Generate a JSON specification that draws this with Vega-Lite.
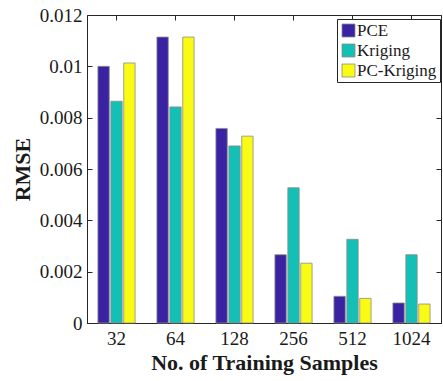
{
  "$schema": "https://vega.github.io/schema/vega-lite/v6.json",
  "width": 354,
  "height": 308,
  "autosize": {"type": "none"},
  "padding": {"left": 87, "top": 15, "right": 2, "bottom": 58},
  "background": "white",
  "config": {
    "view": {"stroke": "#262626", "strokeWidth": 1},
    "font": "Liberation Serif",
    "axis": {
      "domainColor": "#262626",
      "tickColor": "#262626",
      "labelColor": "#1a1a1a",
      "titleColor": "#1a1a1a",
      "labelFont": "Liberation Serif",
      "titleFont": "Liberation Serif",
      "grid": false
    }
  },
  "data": {
    "values": [
      {"n": "32", "method": "PCE", "rmse": 0.01},
      {"n": "32", "method": "Kriging", "rmse": 0.00864},
      {"n": "32", "method": "PC-Kriging", "rmse": 0.01013},
      {"n": "64", "method": "PCE", "rmse": 0.01114},
      {"n": "64", "method": "Kriging", "rmse": 0.00842},
      {"n": "64", "method": "PC-Kriging", "rmse": 0.01114},
      {"n": "128", "method": "PCE", "rmse": 0.00758},
      {"n": "128", "method": "Kriging", "rmse": 0.0069},
      {"n": "128", "method": "PC-Kriging", "rmse": 0.00728},
      {"n": "256", "method": "PCE", "rmse": 0.00266},
      {"n": "256", "method": "Kriging", "rmse": 0.00527},
      {"n": "256", "method": "PC-Kriging", "rmse": 0.00233},
      {"n": "512", "method": "PCE", "rmse": 0.00104},
      {"n": "512", "method": "Kriging", "rmse": 0.00326},
      {"n": "512", "method": "PC-Kriging", "rmse": 0.00096},
      {"n": "1024", "method": "PCE", "rmse": 0.00078},
      {"n": "1024", "method": "Kriging", "rmse": 0.00266},
      {"n": "1024", "method": "PC-Kriging", "rmse": 0.00074}
    ]
  },
  "layer": [
    {
      "mark": {"type": "bar", "stroke": "#8c8c8c", "strokeWidth": 0.8},
      "encoding": {
        "x": {
          "field": "n", "type": "ordinal",
          "sort": ["32", "64", "128", "256", "512", "1024"],
          "scale": {"paddingInner": 0.37, "paddingOuter": 0.185},
          "axis": {
            "title": "No. of Training Samples",
            "labelAngle": 0,
            "labelFont": "Liberation Serif",
            "labelFontSize": 19,
            "labelPadding": 11,
            "tickSize": -5,
            "titleFontSize": 22,
            "titleFontWeight": "bold",
            "titlePadding": 4
          }
        },
        "xOffset": {
          "field": "method", "type": "nominal",
          "sort": ["PCE", "Kriging", "PC-Kriging"],
          "scale": {"paddingInner": 0.12}
        },
        "y": {
          "field": "rmse", "type": "quantitative",
          "scale": {"domain": [0, 0.012], "nice": false},
          "axis": {
            "title": "RMSE",
            "values": [0, 0.002, 0.004, 0.006, 0.008, 0.01, 0.012],
            "format": "~f",
            "labelFont": "Liberation Serif",
            "labelFontSize": 19,
            "labelPadding": 10,
            "tickSize": -5,
            "titleFontSize": 22,
            "titleFontWeight": "bold",
            "titlePadding": 5
          }
        },
        "color": {
          "field": "method", "type": "nominal",
          "sort": ["PCE", "Kriging", "PC-Kriging"],
          "scale": {"domain": ["PCE", "Kriging", "PC-Kriging"], "range": ["#3a22a3", "#14bfb5", "#f9fb15"]},
          "legend": {
            "title": null,
            "orient": "none",
            "legendX": 250,
            "legendY": 4,
            "symbolType": "square",
            "symbolSize": 169,
            "symbolStrokeColor": "#8c8c8c",
            "symbolStrokeWidth": 0.8,
            "symbolOpacity": 1,
            "labelFont": "Liberation Serif",
            "labelFontSize": 17,
            "labelColor": "#1a1a1a",
            "labelOffset": 0,
            "rowPadding": 2,
            "padding": 3,
            "strokeColor": "#262626",
            "fillColor": "white"
          }
        }
      }
    },
    {
      "mark": {"type": "bar", "opacity": 0},
      "encoding": {
        "x": {
          "field": "n", "type": "ordinal",
          "sort": ["32", "64", "128", "256", "512", "1024"],
          "axis": {"orient": "top", "labels": false, "title": null, "tickSize": -5, "domain": false}
        },
        "y": {
          "field": "rmse", "type": "quantitative",
          "axis": {"orient": "right", "labels": false, "title": null, "tickSize": -5, "domain": false,
                   "values": [0, 0.002, 0.004, 0.006, 0.008, 0.01, 0.012]}
        }
      }
    }
  ],
  "resolve": {"axis": {"x": "independent", "y": "independent"}}
}
